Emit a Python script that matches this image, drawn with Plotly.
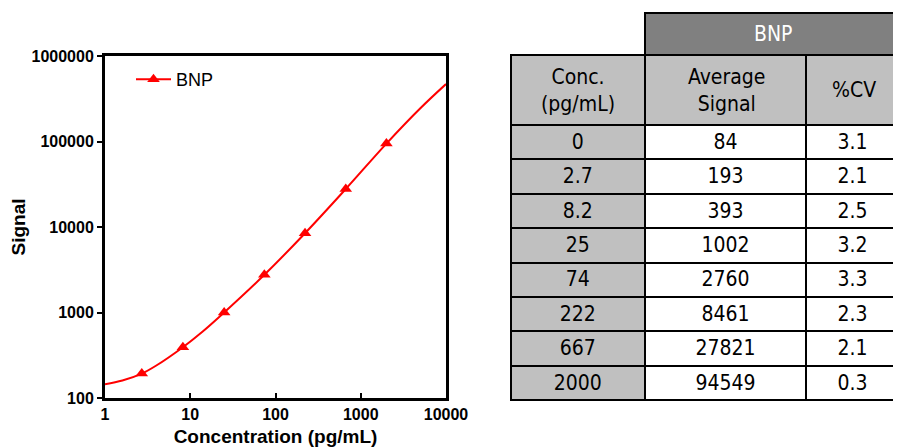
import plotly.graph_objects as go

# ---- data ----
conc = [2.7, 8.2, 25, 74, 222, 667, 2000]
signal = [193, 393, 1002, 2760, 8461, 27821, 94549]

# fitted curve
curve_x = [1, 1.6, 2.7, 4, 8.2, 14, 25, 74, 222, 667, 2000, 5000, 10000]
curve_y = [145, 160, 193, 240, 393, 600, 1002, 2760, 8461, 27821, 94549, 245000, 470000]

x_tickvals = [1, 10, 100, 1000, 10000]
x_ticktext = ["1", "10", "100", "1000", "10000"]
y_tickvals = [100, 1000, 10000, 100000, 1000000]
y_ticktext = ["100", "1000", "10000", "100000", "1000000"]

tbl_conc = ["0", "2.7", "8.2", "25", "74", "222", "667", "2000"]
tbl_signal = ["84", "193", "393", "1002", "2760", "8461", "27821", "94549"]
tbl_cv = ["3.1", "2.1", "2.5", "3.2", "3.3", "2.3", "2.1", "0.3"]
tbl_headers = ["Conc.<br>(pg/mL)", "Average<br>Signal", "%CV"]
group_header = "BNP"

RED = "#ff0000"
OFF = 8                      # page body margin
W, H = 901 - OFF, 447 - OFF  # figure size


def px(p):   # page x -> paper x
    return (p - OFF) / W


def py(p):   # page y -> paper y
    return 1 - (p - OFF) / H


fig = go.Figure()
fig.add_trace(go.Scatter(x=curve_x, y=curve_y, mode="lines",
                         line=dict(color=RED, width=2, shape="spline"),
                         showlegend=False, hoverinfo="skip"))
fig.add_trace(go.Scatter(x=conc, y=signal, mode="markers",
                         marker=dict(symbol="triangle-up", size=11, color=RED),
                         showlegend=False))
fig.add_trace(go.Scatter(x=[None], y=[None], mode="lines+markers", name="BNP",
                         line=dict(color=RED, width=2),
                         marker=dict(symbol="triangle-up", size=11, color=RED)))

TFAM = "DejaVu Sans Condensed, Liberation Sans Narrow, Arial Narrow, sans-serif"
tfont = dict(family=TFAM, size=21, color="black")

# table column edges in page pixels
col_edges = [511, 645, 807, 900]
fig.add_trace(go.Table(
    domain=dict(x=[px(col_edges[0]), px(col_edges[3])], y=[py(401), py(55)]),
    columnwidth=[col_edges[1] - col_edges[0], col_edges[2] - col_edges[1], col_edges[3] - col_edges[2]],
    header=dict(values=["", "", ""], fill_color="#c0c0c0", align="center",
                line=dict(color="black", width=2), font=tfont, height=70),
    cells=dict(values=[tbl_conc, tbl_signal, tbl_cv],
               fill_color=[["#c0c0c0"] * 8, ["white"] * 8, ["white"] * 8],
               align="center", line=dict(color="black", width=2),
               font=tfont, height=34.4),
))
fig.add_trace(go.Table(
    domain=dict(x=[px(col_edges[1]), px(col_edges[3])], y=[py(55), py(13)]),
    header=dict(values=[""], fill_color="#808080", align="center",
                line=dict(color="black", width=2), font=tfont, height=42),
    cells=dict(values=[[]], height=0),
))

annotations = []
for i, txt in enumerate(tbl_headers):
    cx = px((col_edges[i] + col_edges[i + 1]) / 2)
    annotations.append(dict(x=cx, y=py(90), xref="paper", yref="paper",
                            text=txt, showarrow=False, xanchor="center", yanchor="middle",
                            font=tfont))
annotations.append(dict(x=px((col_edges[1] + col_edges[3]) / 2), y=py(34),
                        xref="paper", yref="paper", text=group_header, showarrow=False,
                        xanchor="center", yanchor="middle",
                        font=dict(family=TFAM, size=21, color="white")))

AF = "Arial, Liberation Sans, sans-serif"
common = dict(type="log", showline=True, linewidth=3, linecolor="black", mirror=True,
              ticklen=5, tickwidth=2, tickcolor="black",
              showgrid=False, zeroline=False, automargin=False,
              tickfont=dict(family=AF, size=16, color="black", weight="bold"))

fig.update_layout(
    width=W, height=H, margin=dict(l=0, r=0, t=0, b=0),
    paper_bgcolor="white", plot_bgcolor="white",
    xaxis=dict(domain=[px(105), px(446)], range=[0, 4], ticks="inside",
               tickvals=x_tickvals, ticktext=x_ticktext,
               title=dict(text="Concentration (pg/mL)", standoff=11,
                          font=dict(family=AF, size=19, color="black", weight="bold")),
               **common),
    yaxis=dict(domain=[py(398), py(56)], range=[2, 6], ticks="outside",
               tickvals=y_tickvals, ticktext=y_ticktext,
               title=dict(text="Signal", standoff=8,
                          font=dict(family=AF, size=19, color="black", weight="bold")),
               **common),
    legend=dict(x=px(131), y=py(61), xanchor="left", yanchor="top", itemwidth=35,
                bgcolor="rgba(0,0,0,0)", font=dict(family=AF, size=18, color="black")),
    showlegend=True,
    annotations=annotations,
)

fig.write_html("out.html")
